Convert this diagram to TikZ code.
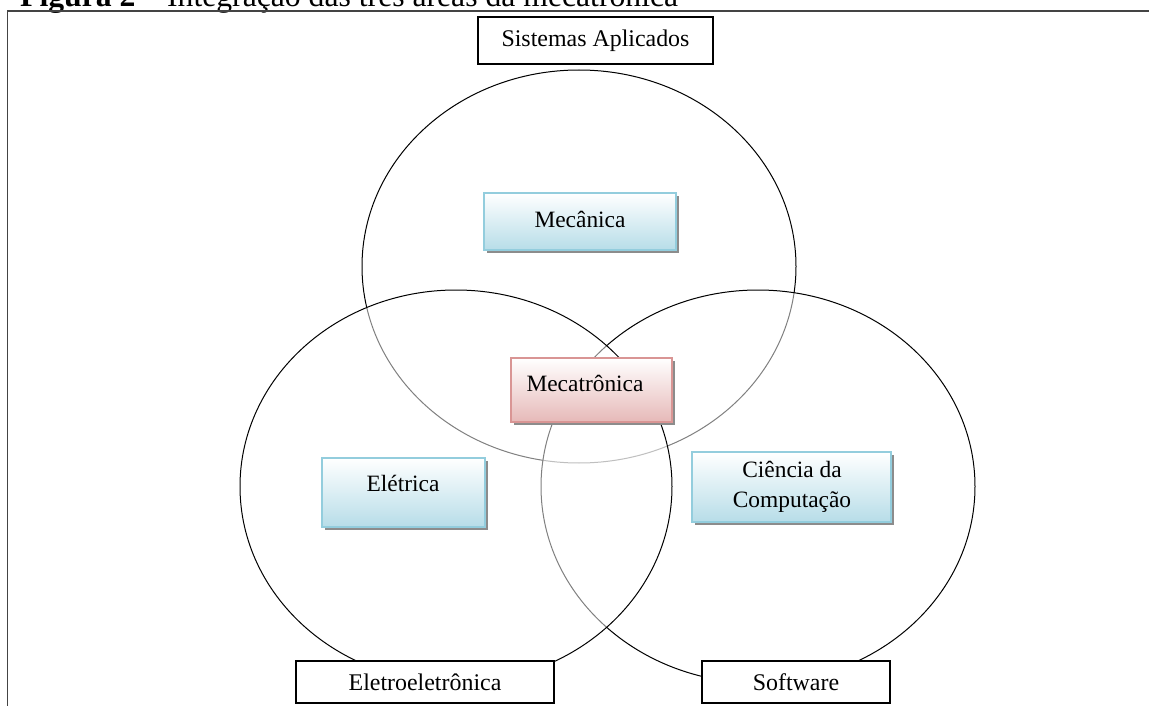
\documentclass[tikz,border=0pt]{standalone}
\usepackage{fontspec}
\setmainfont{Liberation Serif}
\usetikzlibrary{shadows}
\definecolor{blueedge}{HTML}{93CDDD}
\definecolor{bluefill}{HTML}{B7DDE8}
\definecolor{pinkedge}{HTML}{D99594}
\definecolor{pinkfill}{HTML}{E6B9B8}
\definecolor{frameline}{HTML}{444444}
\definecolor{shadowgray}{HTML}{8C8C8C}
\tikzset{
  areabox/.style={draw=black, line width=1.3bp, fill=white, inner sep=0,
    font=\fontsize{24}{28}\selectfont},
  softbox/.style={line width=1.6bp, inner sep=0,
    drop shadow={shadow xshift=3bp, shadow yshift=-3bp, fill=shadowgray, opacity=1}},
  bluebox/.style={softbox, draw=blueedge, top color=white, bottom color=bluefill},
  pinkbox/.style={softbox, draw=pinkedge, top color=white, bottom color=pinkfill},
  boxtext/.style={inner sep=0, font=\fontsize{23.5}{30}\selectfont, align=center},
  field/.style={draw=black, line width=1bp, fill=white, fill opacity=0.5},
}
\begin{document}
\begin{tikzpicture}[x=1bp,y=-1bp]
\useasboundingbox (0,0) rectangle (1149,706);

% caption, partly above the page edge
\node[anchor=base west, inner sep=0, font=\fontsize{31.8}{36}\selectfont] (title) at (20,7)
  {\textbf{Figura 2} – Integração das três áreas da mecatrônica};

% frame
\coordinate (fl) at (7.5,706);
\coordinate (ft) at (7.5,11);
\coordinate (fr) at (1149,11);
\draw[frameline, line width=1.5bp] (fl) -- (ft) -- (fr);

% the three areas
\path[field] (579,266.5) ellipse [x radius=217, y radius=196.5];
\path[field] (758,486.5) ellipse [x radius=217, y radius=196.5];
\path[field] (456,486.5) ellipse [x radius=216, y radius=196.5];

% area labels
\node[areabox, minimum width=235bp, minimum height=47bp] (sis) at (595.5,40.5) {Sistemas Aplicados};
\node[areabox, minimum width=258bp, minimum height=42bp] (ele) at (425,682) {Eletroeletrônica};
\node[areabox, minimum width=188bp, minimum height=42bp] (sof) at (796,682) {Software};

% disciplines
\node[bluebox, minimum width=192bp, minimum height=57bp] (mec) at (580,221.5) {};
\node[boxtext] (mec-t) at (580,219) {Mecânica};

\node[pinkbox, minimum width=161bp, minimum height=64bp] (mtr) at (591.5,390) {};
\node[boxtext] (mtr-t) at (585,383) {Mecatrônica};

\node[bluebox, minimum width=163bp, minimum height=69bp] (elt) at (403.5,492.5) {};
\node[boxtext] (elt-t) at (403,483) {Elétrica};

\node[bluebox, minimum width=199bp, minimum height=70bp] (cc) at (791.5,487) {};
\node[boxtext] (cc-t) at (792,487) {Ciência da\\Computação};
\end{tikzpicture}
\end{document}
